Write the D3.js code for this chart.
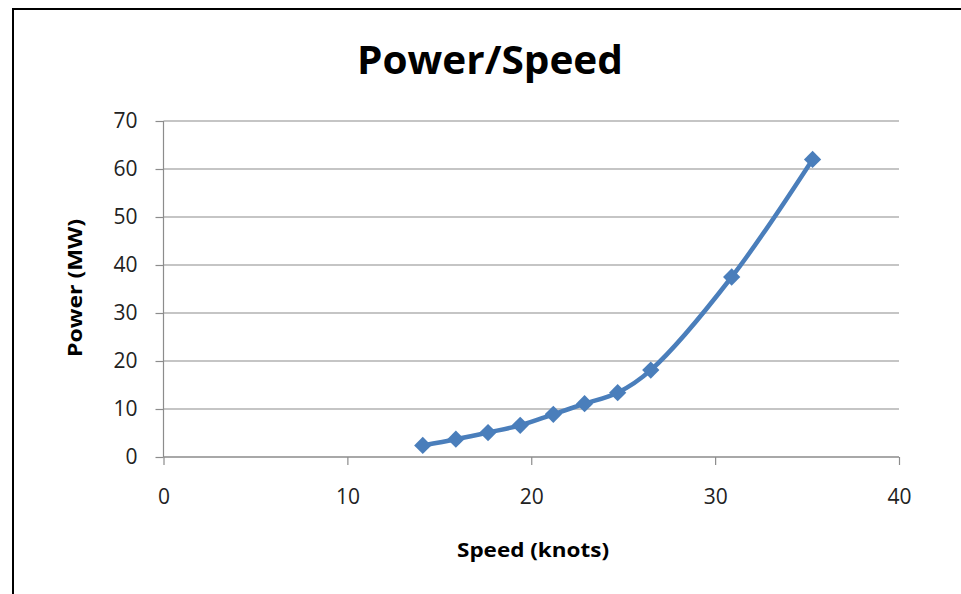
<!DOCTYPE html>
<html>
<head>
<meta charset="utf-8">
<script src="https://cdn.jsdelivr.net/npm/d3@7"></script>
<style>
  body { margin: 0; background: #fff; }
  svg text { font-family: "Open Sans", "Liberation Sans", sans-serif; }
</style>
</head>
<body>
<div id="chart"></div>
<script>
// chart data
var speeds = [14.1, 15.9, 17.65, 19.4, 21.2, 22.9, 24.7, 26.5, 30.9, 35.3];
var powers = [2.4, 3.7, 5.1, 6.6, 8.9, 11.1, 13.4, 18.1, 37.5, 62.0];
var xTicks = [0, 10, 20, 30, 40];
var yTicks = [0, 10, 20, 30, 40, 50, 60, 70];

function init() {
    var w = 961, h = 594;
    var margin = { top: 121, right: 62, bottom: 137, left: 163.5 };
    var innerWidth = w - margin.left - margin.right;
    var innerHeight = h - margin.top - margin.bottom;

    var svg = d3.select("#chart").append("svg")
        .attr("width", w)
        .attr("height", h);

    // outer frame
    svg.append("rect")
        .attr("x", 13).attr("y", 9)
        .attr("width", w).attr("height", h)
        .attr("fill", "none")
        .attr("stroke", "#000")
        .attr("stroke-width", 2);

    svg.append("text")
        .attr("x", 490).attr("y", 74)
        .attr("text-anchor", "middle")
        .attr("textLength", 266)
        .attr("lengthAdjust", "spacingAndGlyphs")
        .style("font-size", "39px")
        .style("font-weight", "bold")
        .text("Power/Speed");

    var g = svg.append("g")
        .attr("transform", `translate(${margin.left}, ${margin.top})`);

    var xScale = d3.scaleLinear().domain([0, 40]).range([0, innerWidth]);
    var yScale = d3.scaleLinear().domain([0, 70]).range([innerHeight, 0]);

    // horizontal grid lines
    g.selectAll(".grid")
        .data(yTicks)
        .enter().append("line")
        .attr("class", "grid")
        .attr("x1", 0).attr("x2", innerWidth)
        .attr("y1", d => yScale(d)).attr("y2", d => yScale(d))
        .attr("stroke", "#8c8c8c")
        .attr("stroke-width", 1.2);

    var yAxis = g.append("g")
        .call(d3.axisLeft(yScale).tickValues(yTicks).tickSize(8).tickPadding(18));
    var xAxis = g.append("g")
        .attr("transform", `translate(0, ${innerHeight})`)
        .call(d3.axisBottom(xScale).tickValues(xTicks).tickSize(8).tickPadding(24));

    [xAxis, yAxis].forEach(function (a) {
        a.select(".domain").attr("stroke", "#8c8c8c").attr("stroke-width", 1.2);
        a.selectAll(".tick line").attr("stroke", "#8c8c8c").attr("stroke-width", 1.2);
        a.selectAll(".tick text")
            .style("font-size", "21px")
            .attr("fill", "#222");
    });
    xAxis.select(".domain").attr("d", `M0,0H${innerWidth}`);
    yAxis.select(".domain").attr("d", `M0,${innerHeight}V0`);

    // axis titles
    svg.append("text")
        .attr("x", 533).attr("y", 557)
        .attr("text-anchor", "middle")
        .attr("textLength", 152)
        .attr("lengthAdjust", "spacingAndGlyphs")
        .style("font-size", "20px")
        .style("font-weight", "bold")
        .text("Speed (knots)");

    svg.append("text")
        .attr("transform", "translate(82, 288) rotate(-90)")
        .attr("text-anchor", "middle")
        .attr("textLength", 138)
        .attr("lengthAdjust", "spacingAndGlyphs")
        .style("font-size", "20px")
        .style("font-weight", "bold")
        .text("Power (MW)");

    var data = speeds.map((s, i) => ({ x: s, y: powers[i] }));

    var line = d3.line()
        .x(d => xScale(d.x))
        .y(d => yScale(d.y))
        .curve(d3.curveCatmullRom.alpha(0.5));

    g.append("path")
        .datum(data)
        .attr("d", line)
        .attr("fill", "none")
        .attr("stroke", "#4a7ebb")
        .attr("stroke-width", 4.5)
        .attr("stroke-linejoin", "round");

    g.selectAll(".pt")
        .data(data)
        .enter().append("path")
        .attr("class", "pt")
        .attr("transform", d => `translate(${xScale(d.x)}, ${yScale(d.y)})`)
        .attr("d", d3.symbol().type(d3.symbolDiamond2).size(190))
        .attr("fill", "#4a7ebb");
}

window.onload = init;
</script>
</body>
</html>
